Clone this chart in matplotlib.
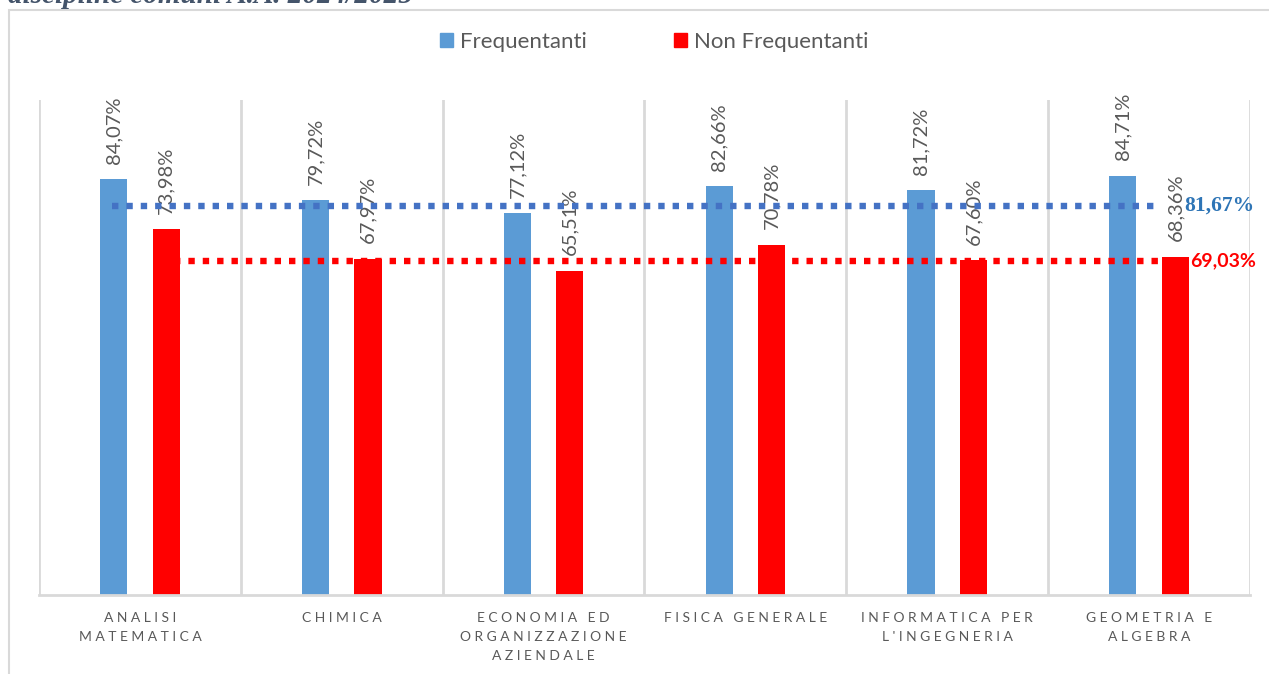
import numpy as np
import matplotlib.pyplot as plt
from matplotlib.patches import Patch, Rectangle

# Dati
categorie = ["ANALISI\nMATEMATICA", "CHIMICA", "ECONOMIA ED\nORGANIZZAZIONE\nAZIENDALE",
             "FISICA GENERALE", "INFORMATICA PER\nL'INGEGNERIA", "GEOMETRIA E\nALGEBRA"]
frequentanti = [84.07, 79.72, 77.12, 82.66, 81.72, 84.71]
non_frequentanti = [73.98, 67.97, 65.51, 70.78, 67.60, 68.36]

# Medie (etichetta) e posizione della linea tratteggiata come appare nel grafico
media_freq_label = "81,67%"
media_non_label = "69,03%"
media_freq_pos = 78.6
media_non_pos = 67.5

titolo = "discipline comuni A.A. 2024/2025"

BLU = "#5B9BD5"
ROSSO = "#FF0000"
GRIGIO = "#595959"
GRIGLIA = "#D9D9D9"


def spaziatura(testo):
    # lettere distanziate come nell'originale
    righe = []
    for riga in testo.split("\n"):
        parole = [" ".join(p) for p in riga.split(" ")]
        righe.append("   ".join(parole))
    return "\n".join(righe)


def pct(v):
    return f"{v:.2f}%".replace(".", ",")


fig = plt.figure(figsize=(12.69, 6.74), dpi=100)
ax = fig.add_axes([39 / 1269, 1 - 595 / 674, (1250 - 39) / 1269, (595 - 100) / 674])

x = np.arange(len(categorie))
larg = 0.134
off = 0.13

ax.bar(x - off, frequentanti, width=larg, color=BLU, zorder=2)
ax.bar(x + off, non_frequentanti, width=larg, color=ROSSO, zorder=2)

# Etichette dei valori
for xi, v in zip(x - off, frequentanti):
    ax.annotate(pct(v), (xi, v), xytext=(0, 11), textcoords="offset points",
                rotation=90, ha="center", va="bottom", color=GRIGIO,
                fontsize=14.5, family="Lato", zorder=3)
for xi, v in zip(x + off, non_frequentanti):
    ax.annotate(pct(v), (xi, v), xytext=(0, 11), textcoords="offset points",
                rotation=90, ha="center", va="bottom", color=GRIGIO,
                fontsize=14.5, family="Lato", zorder=3)

# Linee della media
ax.plot([x[0] - off - 0.008, x[-1] + 0.04], [media_freq_pos, media_freq_pos],
        color="#4472C4", lw=4.6, linestyle=(0, (1.0, 1.25)),
        solid_capstyle="butt", dash_capstyle="butt", zorder=5, clip_on=False)
ax.plot([x[0] + 0.17, x[-1] + off + 0.067], [media_non_pos, media_non_pos],
        color=ROSSO, lw=4.6, linestyle=(0, (1.0, 1.25)),
        solid_capstyle="butt", dash_capstyle="butt", zorder=5, clip_on=False)

ax.text(x[-1] + 0.175, media_freq_pos, media_freq_label, color="#2E75B6",
        fontsize=15.5, fontweight="bold", family="Liberation Serif",
        ha="left", va="center", zorder=6, clip_on=False)
ax.text(x[-1] + off + 0.075, media_non_pos, media_non_label, color=ROSSO,
        fontsize=14, fontweight="bold", family="Lato",
        ha="left", va="center", zorder=6, clip_on=False)

ax.set_xlim(-0.5, len(categorie) - 0.5)
ax.set_ylim(0, 100)

# Griglia verticale tra le categorie
for sep in np.arange(-0.5, len(categorie), 1.0):
    ax.axvline(sep, color=GRIGLIA, lw=2, zorder=1)

for s in ["top", "right", "left"]:
    ax.spines[s].set_visible(False)
ax.spines["bottom"].set_color(GRIGLIA)
ax.spines["bottom"].set_linewidth(2)
ax.set_yticks([])
ax.set_xticks(x)
ax.set_xticklabels([spaziatura(c) for c in categorie], color=GRIGIO,
                   fontsize=10, family="Lato", linespacing=1.7)
ax.tick_params(axis="x", length=0, pad=12)

# Legenda
fig.legend(handles=[Patch(color=BLU, label="Frequentanti"),
                    Patch(color=ROSSO, label="Non Frequentanti")],
           loc="center", bbox_to_anchor=(654 / 1269, 1 - 42 / 674), ncol=2,
           frameon=False, prop={"family": "Lato", "size": 16},
           labelcolor=GRIGIO, handlelength=0.62, handleheight=0.62,
           handletextpad=0.3, columnspacing=3.9)

# Cornice del grafico
fig.patches.append(Rectangle((9 / 1269, -0.1), 1.2, 1 - 10 / 674 + 0.1,
                             transform=fig.transFigure, fill=False,
                             edgecolor=GRIGLIA, lw=1.5))

# Titolo tagliato in alto
fig.text(8 / 1269, 1 - 3 / 674, titolo, color="#44546A", fontsize=21,
         fontweight="bold", style="italic", family="Liberation Serif",
         ha="left", va="baseline")

fig.savefig("out.png", dpi=100)
